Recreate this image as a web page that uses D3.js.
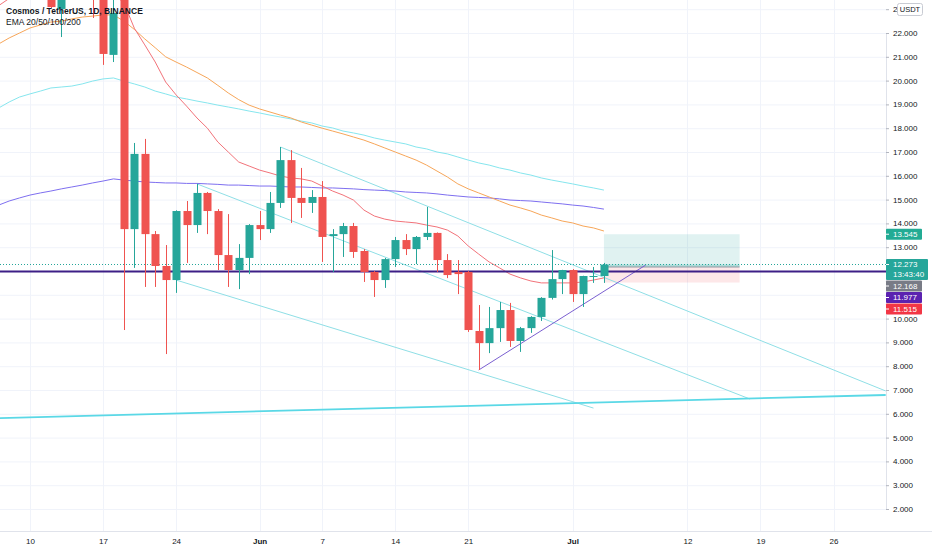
<!DOCTYPE html>
<html>
<head>
<meta charset="utf-8">
<script src="https://cdn.jsdelivr.net/npm/d3@7"></script>
<style>
  body { margin: 0; background: #fff; }
  svg { display: block; }
  text { font-family: "Liberation Sans", Arial, sans-serif; }
</style>
</head>
<body>
<div id="chart"></div>
<script>
// data
const dates = [
  "2021-05-07","2021-05-08","2021-05-09","2021-05-10","2021-05-11","2021-05-12","2021-05-13","2021-05-14","2021-05-15","2021-05-16",
  "2021-05-17","2021-05-18","2021-05-19","2021-05-20","2021-05-21","2021-05-22","2021-05-23","2021-05-24","2021-05-25","2021-05-26",
  "2021-05-27","2021-05-28","2021-05-29","2021-05-30","2021-05-31","2021-06-01","2021-06-02","2021-06-03","2021-06-04","2021-06-05",
  "2021-06-06","2021-06-07","2021-06-08","2021-06-09","2021-06-10","2021-06-11","2021-06-12","2021-06-13","2021-06-14","2021-06-15",
  "2021-06-16","2021-06-17","2021-06-18","2021-06-19","2021-06-20","2021-06-21","2021-06-22","2021-06-23","2021-06-24","2021-06-25",
  "2021-06-26","2021-06-27","2021-06-28","2021-06-29","2021-06-30","2021-07-01","2021-07-02","2021-07-03","2021-07-04"
]
const opens = [
  24.2,25.0,26.3,25.9,24.6,25.4,23.01,24.3,25.1,23.8,
  23.5,21.08,23.5,13.76,16.92,13.55,12.21,11.62,14.52,13.93,
  15.28,14.52,12.67,12.04,12.55,13.93,13.76,14.86,16.66,15.07,
  14.86,15.11,13.47,13.55,13.89,12.84,11.96,11.62,12.5,13.3,
  12.92,13.43,13.6,12.46,11.96,11.96,9.48,8.97,9.6,10.36,
  9.06,9.6,10.07,10.87,11.66,12.04,11.03,11.77,11.79
]
const highs = [
  25.6,26.8,27.2,27.5,25.8,25.9,24.6,25.6,25.4,24.5,
  24.0,23.9,23.8,17.38,17.55,13.68,13.09,14.55,14.94,15.66,
  15.32,14.6,14.39,13.13,13.97,14.52,15.32,17.21,17.08,16.33,
  15.4,15.78,13.76,14.02,14.02,12.92,12.0,12.55,13.43,13.55,
  13.47,14.69,13.62,12.71,12.46,12.0,10.57,10.49,10.7,10.66,
  9.65,10.1,10.9,12.88,12.05,12.08,11.8,12.17,12.34
]
const lows = [
  23.8,24.6,25.0,24.2,23.9,23.05,21.83,23.9,23.6,22.63,
  20.66,20.78,9.52,12.13,11.33,11.33,8.51,11.08,12.34,13.6,
  13.55,12.04,11.33,11.24,11.87,13.3,13.6,14.65,14.02,14.23,
  14.44,12.38,11.96,12.59,12.55,11.54,10.91,11.29,12.17,12.67,
  12.29,13.3,11.96,11.7,11.03,9.44,7.84,8.55,9.02,8.81,
  8.6,9.4,9.9,10.8,11.03,10.7,10.49,11.5,11.5
]
const closes = [
  25.0,26.3,25.9,24.6,25.4,23.09,24.3,25.1,23.8,23.5,
  21.12,22.84,13.76,16.92,13.55,12.21,11.62,14.52,13.93,15.28,
  14.52,12.67,12.04,12.55,13.93,13.76,14.86,16.66,15.07,14.86,
  15.11,13.43,13.55,13.89,12.8,11.96,11.62,12.5,13.3,12.92,
  13.43,13.6,12.46,11.83,11.87,9.52,8.97,9.6,10.36,9.06,
  9.6,10.07,10.87,11.66,12.04,11.03,11.79,11.79,12.27
]

// moving averages, one value per candle
const ema20 = [
  23.15,23.45,23.7,23.85,23.95,23.9,23.95,24.05,24.0,23.95,
  23.75,23.65,23.26,22.2,21.5,20.78,19.94,19.4,18.93,18.43,
  18.0,17.42,17.0,16.58,16.41,16.24,16.12,15.99,15.91,15.87,
  15.78,15.57,15.36,15.19,14.98,14.56,14.31,14.18,14.1,14.06,
  14.02,13.93,13.85,13.72,13.47,13.05,12.71,12.38,12.13,11.87,
  11.71,11.58,11.5,11.5,11.5,11.5,11.54,11.62,11.71
]
const ema50 = [
  21.54,21.79,22.0,22.21,22.34,22.46,22.5,22.59,22.67,22.71,
  22.76,22.76,22.5,22.15,21.75,21.38,21.0,20.78,20.57,20.34,
  20.11,19.8,19.48,19.2,18.97,18.81,18.68,18.55,18.43,18.26,
  18.13,18.0,17.88,17.76,17.63,17.5,17.34,17.17,17.0,16.83,
  16.66,16.45,16.2,15.95,15.66,15.45,15.28,15.11,14.94,14.77,
  14.65,14.52,14.35,14.23,14.1,14.02,13.89,13.81,13.68
]
const ema100 = [
  18.85,19.1,19.31,19.44,19.56,19.69,19.73,19.77,19.86,19.98,
  20.07,20.11,19.98,19.86,19.73,19.56,19.44,19.31,19.23,19.14,
  19.06,18.97,18.89,18.81,18.72,18.64,18.55,18.47,18.39,18.3,
  18.22,18.09,18.01,17.88,17.8,17.71,17.59,17.5,17.42,17.34,
  17.21,17.13,17.0,16.92,16.79,16.66,16.54,16.45,16.33,16.24,
  16.12,16.03,15.91,15.82,15.74,15.66,15.57,15.49,15.4
]
const ema200 = [
  14.77,14.94,15.07,15.19,15.28,15.36,15.45,15.53,15.61,15.7,
  15.78,15.87,15.82,15.78,15.74,15.72,15.7,15.7,15.68,15.68,
  15.66,15.64,15.61,15.61,15.59,15.57,15.57,15.55,15.53,15.53,
  15.51,15.49,15.49,15.47,15.45,15.42,15.4,15.38,15.36,15.32,
  15.3,15.28,15.24,15.19,15.15,15.11,15.09,15.07,15.03,14.98,
  14.96,14.94,14.9,14.86,14.82,14.77,14.73,14.67,14.6
]

// drawings: [date, price] anchors
const channelUpper = [["2021-06-03", 17.21], ["2021-07-31", 6.96]]
const channelMiddle = [["2021-05-26", 15.66], ["2021-07-18", 6.62]]
const channelLower = [["2021-05-24", 11.62], ["2021-07-03", 6.24]]
const longSupport = [["2021-05-07", 5.82], ["2021-07-31", 6.79]]
const risingSupport = [["2021-06-22", 7.84], ["2021-07-08", 12.25]]
const levelPrice = 11.977
const lastPrice = 12.273
const countdown = "13:43:40"
const position = { start: "2021-07-04", end: "2021-07-17", entry: 12.168, target: 13.545, stop: 11.515 }

// axes
const priceTicks = [2,3,4,5,6,7,8,9,10,11,12,13,14,15,16,17,18,19,20,21,22,23]
const timeTickDates = ["2021-05-10","2021-05-17","2021-05-24","2021-06-01","2021-06-07","2021-06-14","2021-06-21","2021-07-01","2021-07-12","2021-07-19","2021-07-26"]
const timeTickLabels = ["10","17","24","Jun","7","14","21","Jul","12","19","26"]

// dimensions
const dimensions = {
  width: 932,
  height: 550,
  plotRight: 886,
  plotBottom: 531,
}

const parse = d3.utcParse("%Y-%m-%d")
const candles = dates.map((d, i) => ({
  date: parse(d), o: opens[i], h: highs[i], l: lows[i], c: closes[i]
}))

const svg = d3.select("#chart")
  .append("svg")
  .attr("width", dimensions.width)
  .attr("height", dimensions.height)

const defs = svg.append("defs")
defs.append("clipPath")
  .attr("id", "plot")
  .append("rect")
  .attr("x", 0).attr("y", 0)
  .attr("width", dimensions.plotRight)
  .attr("height", dimensions.plotBottom)
// the top tick label sits under the currency box, only its first digit shows
defs.append("clipPath")
  .attr("id", "underbox")
  .append("rect")
  .attr("x", 0).attr("y", -10)
  .attr("width", 11.5).attr("height", 20)

// scales
const xScale = d3.scaleUtc()
  .domain([parse("2021-05-10"), parse("2021-07-26")])
  .range([30, 833.5])
const yScale = d3.scaleLinear()
  .domain([2, 22])
  .range([509, 33])

// grid
const grid = svg.append("g")
grid.selectAll(".hgrid")
  .data(priceTicks)
  .join("line")
  .attr("x1", 0).attr("x2", dimensions.plotRight)
  .attr("y1", d => yScale(d) + 0.5).attr("y2", d => yScale(d) + 0.5)
  .attr("stroke", "#f0f3fa")
grid.selectAll(".vgrid")
  .data(timeTickDates)
  .join("line")
  .attr("x1", d => Math.round(xScale(parse(d))) + 0.5)
  .attr("x2", d => Math.round(xScale(parse(d))) + 0.5)
  .attr("y1", 0).attr("y2", dimensions.plotBottom)
  .attr("stroke", "#f0f3fa")

const ctr = svg.append("g").attr("clip-path", "url(#plot)")

// long position box
const px0 = xScale(parse(position.start))
const px1 = xScale(parse(position.end))
ctr.append("rect")
  .attr("x", px0).attr("width", px1 - px0)
  .attr("y", yScale(position.target))
  .attr("height", yScale(position.entry) - yScale(position.target))
  .attr("fill", "rgba(38,166,154,0.14)")
ctr.append("rect")
  .attr("x", px0).attr("width", px1 - px0)
  .attr("y", yScale(lastPrice))
  .attr("height", yScale(position.entry) - yScale(lastPrice))
  .attr("fill", "rgba(38,166,154,0.28)")
ctr.append("rect")
  .attr("x", px0).attr("width", px1 - px0)
  .attr("y", yScale(position.entry))
  .attr("height", yScale(position.stop) - yScale(position.entry))
  .attr("fill", "rgba(242,54,69,0.12)")
ctr.append("line")
  .attr("x1", px0).attr("x2", px1)
  .attr("y1", yScale(position.entry)).attr("y2", yScale(position.entry))
  .attr("stroke", "#9598a1").attr("stroke-width", 1)

// trend lines
const anchorLine = d3.line()
  .x(d => xScale(parse(d[0])))
  .y(d => yScale(d[1]))
const drawings = [
  { pts: channelUpper, color: "#8fdfe6", w: 1 },
  { pts: channelMiddle, color: "#8fdfe6", w: 1 },
  { pts: channelLower, color: "#8fdfe6", w: 1 },
  { pts: longSupport, color: "#5ad8e6", w: 1.8 },
  { pts: risingSupport, color: "#7a5fd0", w: 1 },
]
ctr.selectAll(".drawing")
  .data(drawings)
  .join("path")
  .attr("d", d => anchorLine(d.pts))
  .attr("fill", "none")
  .attr("stroke", d => d.color)
  .attr("stroke-width", d => d.w)

// moving averages
const emaSeries = [
  { values: ema200, color: "#7e6ff0" },
  { values: ema100, color: "#86e6ee" },
  { values: ema50, color: "#f7a659" },
  { values: ema20, color: "#f2737a" },
]
const emaLine = d3.line()
  .x((d, i) => xScale(candles[i].date))
  .y(d => yScale(d))
ctr.selectAll(".ema")
  .data(emaSeries)
  .join("path")
  .attr("d", d => emaLine(d.values))
  .attr("fill", "none")
  .attr("stroke", d => d.color)
  .attr("stroke-width", 1)

// horizontal level and last price line
ctr.append("line")
  .attr("x1", 0).attr("x2", dimensions.plotRight)
  .attr("y1", yScale(levelPrice)).attr("y2", yScale(levelPrice))
  .attr("stroke", "#3d1f86").attr("stroke-width", 2)
ctr.append("line")
  .attr("x1", 0).attr("x2", dimensions.plotRight)
  .attr("y1", yScale(lastPrice)).attr("y2", yScale(lastPrice))
  .attr("stroke", "#26a69a").attr("stroke-width", 1)
  .attr("stroke-dasharray", "1,2")

// candles
const up = "#26a69a"
const down = "#ef5350"
const color = d => d.c >= d.o ? up : down
ctr.selectAll(".wick")
  .data(candles)
  .join("line")
  .attr("x1", d => Math.round(xScale(d.date)) + 0.5)
  .attr("x2", d => Math.round(xScale(d.date)) + 0.5)
  .attr("y1", d => yScale(d.h))
  .attr("y2", d => yScale(d.l))
  .attr("stroke", color)
ctr.selectAll(".body")
  .data(candles)
  .join("rect")
  .attr("x", d => Math.round(xScale(d.date)) - 3.5)
  .attr("width", 8)
  .attr("y", d => yScale(Math.max(d.o, d.c)))
  .attr("height", d => Math.max(1, Math.abs(yScale(d.o) - yScale(d.c))))
  .attr("fill", color)

// price labels on the axis (stacked so they do not overlap)
const priceLabels = [
  { v: position.target, bg: "#22ab94", lines: [position.target.toFixed(3)] },
  { v: lastPrice, bg: "#26a69a", lines: [lastPrice.toFixed(3), countdown] },
  { v: position.entry, bg: "#787b86", lines: [position.entry.toFixed(3)] },
  { v: levelPrice, bg: "#5b22b0", lines: [levelPrice.toFixed(3)] },
  { v: position.stop, bg: "#f23645", lines: [position.stop.toFixed(3)] },
]
let prevBottom = -Infinity
priceLabels.forEach(lbl => {
  lbl.h = lbl.lines.length * 10 + 1
  lbl.top = Math.max(yScale(lbl.v) - 5.5, prevBottom + 0.5)
  prevBottom = lbl.top + lbl.h
})
const covered = t => priceLabels.some(l => yScale(t) > l.top - 2 && yScale(t) < l.top + l.h + 2)

// price axis
const yAxis = d3.axisRight(yScale)
  .tickValues(priceTicks)
  .tickSize(3)
  .tickPadding(4)
  .tickFormat(d => covered(d) ? "" : d3.format(".3f")(d))
const yAxisGroup = svg.append("g")
  .attr("transform", `translate(${dimensions.plotRight}, 0)`)
  .call(yAxis)
yAxisGroup.select(".domain").attr("stroke", "#e0e3eb")
yAxisGroup.selectAll(".tick line").attr("stroke", "#b2b5be")
yAxisGroup.selectAll(".tick text")
  .attr("fill", "#131722")
  .style("font-size", "8px")
  .attr("clip-path", d => d === 23 ? "url(#underbox)" : null)

// time axis
const xAxis = d3.axisBottom(xScale)
  .tickValues(timeTickDates.map(parse))
  .tickSize(0)
  .tickPadding(7)
  .tickFormat((d, i) => timeTickLabels[i])
const xAxisGroup = svg.append("g")
  .attr("transform", `translate(0, ${dimensions.plotBottom})`)
  .call(xAxis)
xAxisGroup.select(".domain").remove()
xAxisGroup.selectAll(".tick text")
  .attr("fill", "#131722")
  .style("font-size", "8px")
  .style("font-weight", (d, i) => /[A-Za-z]/.test(timeTickLabels[i]) ? "bold" : "normal")
svg.append("line")
  .attr("x1", 0).attr("x2", dimensions.width)
  .attr("y1", dimensions.plotBottom + 0.5).attr("y2", dimensions.plotBottom + 0.5)
  .attr("stroke", "#e0e3eb")

priceLabels.forEach(lbl => {
  const g = svg.append("g")
  g.append("rect")
    .attr("x", dimensions.plotRight).attr("y", lbl.top)
    .attr("width", lbl.lines.length > 1 ? 42 : 36).attr("height", lbl.h)
    .attr("rx", 1)
    .attr("fill", lbl.bg)
  g.append("line")
    .attr("x1", dimensions.plotRight).attr("x2", dimensions.plotRight + 3)
    .attr("y1", lbl.top + 5.5).attr("y2", lbl.top + 5.5)
    .attr("stroke", "#fff")
  lbl.lines.forEach((t, i) => {
    g.append("text")
      .attr("x", dimensions.plotRight + 7)
      .attr("y", lbl.top + 5.5 + i * 10)
      .attr("dy", "0.35em")
      .attr("fill", "#fff")
      .style("font-size", "8px")
      .text(t)
  })
})

// currency box
svg.append("rect")
  .attr("x", 897.5).attr("y", 3.5)
  .attr("width", 25).attr("height", 12)
  .attr("rx", 2)
  .attr("fill", "#fff")
  .attr("stroke", "#c8cbd3")
svg.append("text")
  .attr("x", 910).attr("y", 9.5)
  .attr("dy", "0.35em")
  .attr("text-anchor", "middle")
  .attr("fill", "#131722")
  .style("font-size", "7.5px")
  .text("USDT")

// legend
svg.append("text")
  .attr("x", 6).attr("y", 14)
  .attr("fill", "#131722")
  .style("font-size", "8.5px")
  .style("font-weight", "bold")
  .text("Cosmos / TetherUS, 1D, BINANCE")
svg.append("text")
  .attr("x", 6).attr("y", 25)
  .attr("fill", "#131722")
  .style("font-size", "8.5px")
  .text("EMA 20/50/100/200")
</script>
</body>
</html>
